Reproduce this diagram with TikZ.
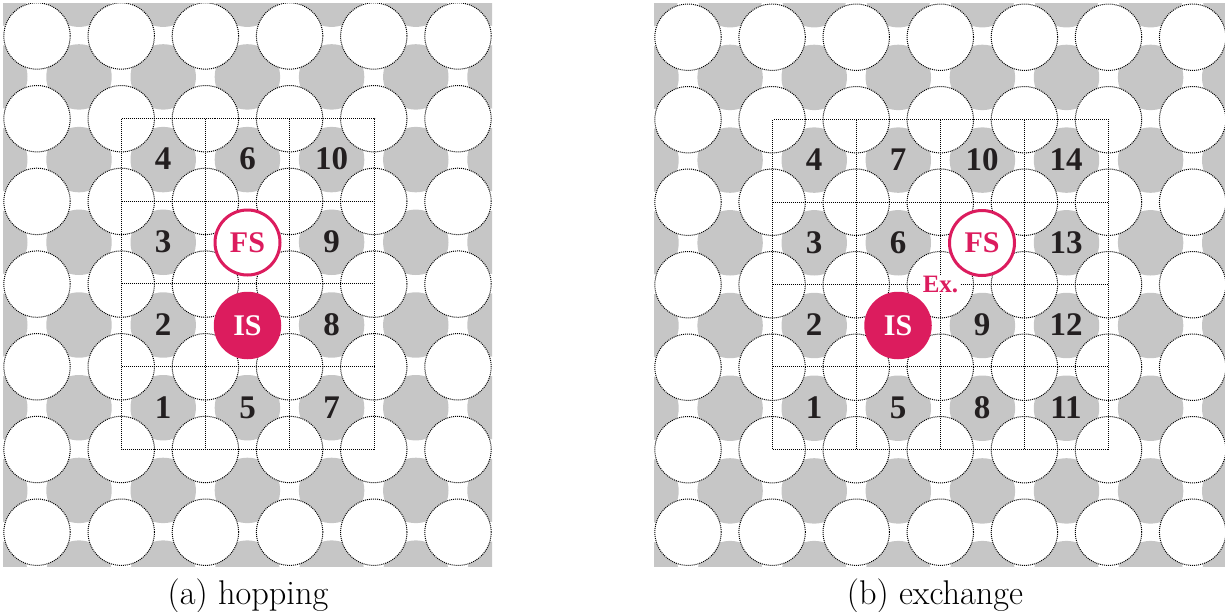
\documentclass[tikz,border=0pt]{standalone}
\usepackage{fontspec}
\newfontfamily\numfont{Liberation Serif}
\definecolor{sitegray}{HTML}{C6C6C6}
\definecolor{accent}{HTML}{DC1C5E}
\definecolor{inkdark}{HTML}{231F20}
\tikzset{
  whitesite/.style={circle,fill=white,draw=black,line width=1pt,dash pattern=on 1pt off 1pt,minimum size=66.4pt,inner sep=0pt,outer sep=0pt},
  gridline/.style={draw=black,line width=1.5pt,dash pattern=on 1pt off 1pt},
  numlabel/.style={text=inkdark,font=\numfont\bfseries\fontsize{33}{33}\selectfont,inner sep=0pt},
  fsnode/.style={circle,fill=white,draw=accent,line width=3pt,minimum size=65pt,inner sep=0pt,text=accent,font=\numfont\bfseries\fontsize{30}{30}\selectfont},
  isnode/.style={circle,fill=accent,minimum size=67.5pt,inner sep=0pt,text=white,font=\numfont\bfseries\fontsize{30}{30}\selectfont},
  exnode/.style={fill=white,inner sep=1.5pt,text=accent,font=\numfont\bfseries\fontsize{25}{25}\selectfont},
  caption/.style={font=\fontsize{34.3}{35}\selectfont,text=black,inner sep=0pt,anchor=base}
}
\begin{document}
\begin{tikzpicture}[x=1pt,y=-1pt]
\useasboundingbox (0,0) rectangle (1225,611);
% panel a
\begin{scope}
\clip (3,3) rectangle (492,566);
\foreach \i in {0,...,6} \foreach \j in {0,...,7}
  \fill[sitegray] ({-5.2+84.2*\i},{-5.8+82.7*\j}) circle (32.7);
\foreach \i in {0,...,5} \foreach \j in {0,...,6}
  \node[whitesite] (a\i\j) at ({37+84.2*\i},{36+82.7*\j}) {};
\end{scope}
\draw[gridline] (121.5,118.5) rectangle (374.5,449.5);
\foreach \x in {205.5,289.5} \draw[gridline] (\x,118.5) -- (\x,449.5);
\foreach \y in {201.5,283.5,366.5} \draw[gridline] (121.5,\y) -- (374.5,\y);
\node[numlabel] (la4) at (163,159) {4};
\node[numlabel] (la6) at (247.5,159) {6};
\node[numlabel] (la10) at (331.5,159) {10};
\node[numlabel] (la3) at (163,242) {3};
\node[numlabel] (la9) at (331.5,242) {9};
\node[numlabel] (la2) at (163,325) {2};
\node[numlabel] (la8) at (331.5,325) {8};
\node[numlabel] (la1) at (163,407.5) {1};
\node[numlabel] (la5) at (247.5,407.5) {5};
\node[numlabel] (la7) at (331.5,407.5) {7};
\node[fsnode] (fsa) at (247.5,242.5) {FS};
\node[isnode] (isa) at (247.5,325.5) {IS};
\node[caption] (capa) at (248,604) {(a) hopping};
% panel b
\begin{scope}
\clip (654,3) rectangle (1225,566);
\foreach \i in {0,...,7} \foreach \j in {0,...,7}
  \fill[sitegray] ({646+84.1*\i},{-5.3+82.7*\j}) circle (32.7);
\foreach \i in {0,...,6} \foreach \j in {0,...,6}
  \node[whitesite] (b\i\j) at ({688+84.1*\i},{37.2+82.5*\j}) {};
\end{scope}
\draw[gridline] (772.5,119.5) rectangle (1108.5,449.5);
\foreach \x in {856.5,940.5,1024.5} \draw[gridline] (\x,119.5) -- (\x,449.5);
\foreach \y in {202.5,284.5,366.5} \draw[gridline] (772.5,\y) -- (1108.5,\y);
\node[numlabel] (lb4) at (814,160) {4};
\node[numlabel] (lb7) at (898,160) {7};
\node[numlabel] (lb10) at (982,160) {10};
\node[numlabel] (lb14) at (1066,160) {14};
\node[numlabel] (lb3) at (814,243) {3};
\node[numlabel] (lb6) at (898,243) {6};
\node[numlabel] (lb13) at (1066,243) {13};
\node[numlabel] (lb2) at (814,325) {2};
\node[numlabel] (lb9) at (982,325) {9};
\node[numlabel] (lb12) at (1066,325) {12};
\node[numlabel] (lb1) at (814,408) {1};
\node[numlabel] (lb5) at (898,408) {5};
\node[numlabel] (lb8) at (982,408) {8};
\node[numlabel] (lb11) at (1066,408) {11};
\node[exnode] (exb) at (940.5,284.5) {Ex.};
\node[fsnode] (fsb) at (982,243) {FS};
\node[isnode] (isb) at (898,325.5) {IS};
\node[caption] (capb) at (935,604) {(b) exchange};
\end{tikzpicture}
\end{document}
